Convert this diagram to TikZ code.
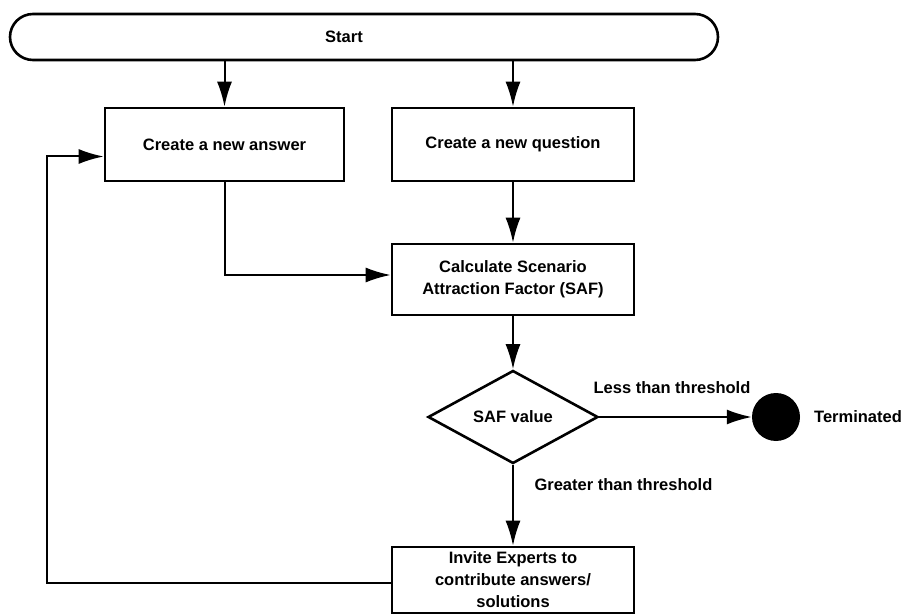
\documentclass[tikz,border=0pt]{standalone}
\usepackage{fontspec}
\setmainfont{Liberation Sans}
\usetikzlibrary{shapes.geometric,arrows.meta}
\begin{document}
\begin{tikzpicture}[x=1pt,y=-1pt,
  every node/.style={font=\fontsize{16.5}{22}\selectfont\bfseries},
  outline/.style={draw,line width=2.6pt},
  startbox/.style={outline,rectangle,rounded corners=23pt,minimum width=708pt,minimum height=46pt},
  procbox/.style={outline,rectangle,minimum width=242pt,inner sep=2pt,align=center},
  decision/.style={outline,diamond,minimum width=170pt,minimum height=93pt,inner sep=0pt},
  endpt/.style={circle,fill=black,minimum size=48pt,inner sep=0pt},
  flow/.style={line width=2pt,-{Latex[length=25pt,width=15pt]}}
]
\path[use as bounding box,fill=white] (0,0) rectangle (906,615);

% process steps
\node[startbox] (start) at (364,37) {\hspace*{-40pt}Start};
\node[procbox,minimum width=239pt,minimum height=73pt] (ans) at (224.5,144.5) {Create a new answer};
\node[procbox,minimum height=73pt] (que) at (513,144.5) {Create a new question};
\node[procbox,minimum height=71pt] (calc) at (513,279.5) {Calculate Scenario\\Attraction Factor (SAF)};
\node[decision] (dec) at (513,417) {SAF value};
\node[endpt] (stop) at (776,417) {};
\node (termlbl) at (858,417) {Terminated};
\node[procbox,minimum height=66pt] (inv) at (513,580) {Invite Experts to\\contribute answers/\\solutions};

% branch labels
\node (less) at (672,388) {Less than threshold};
\node[anchor=west] (greater) at (531,485) {Greater than threshold};

% connectors
\draw[flow] (ans.north |- start.south) -- (ans.north);
\draw[flow] (que.north |- start.south) -- (que.north);
\draw[flow] (que) -- (calc);
\coordinate (join) at (0,275);
\draw[flow] (ans.south) -- (ans.south |- join) -- (calc.west |- join);
\draw[flow] (calc) -- (dec);
\draw[flow] (dec.east) -- (stop.west);
\draw[flow] (dec.south) -- (inv.north);
\coordinate (loop) at (47,583);
\draw[flow] (inv.west |- loop) -- (loop) |- ([yshift=-12pt]ans.west);
\end{tikzpicture}
\end{document}
